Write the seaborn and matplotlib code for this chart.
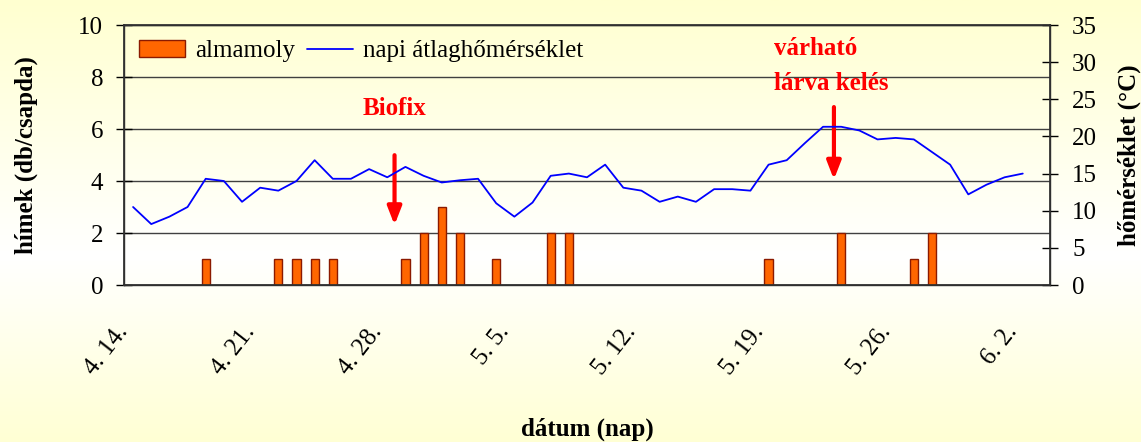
import numpy as np
import pandas as pd
import matplotlib
matplotlib.use("Agg")
import matplotlib.pyplot as plt
import matplotlib.transforms as mtransforms
from matplotlib.patches import Patch
from matplotlib.lines import Line2D
from matplotlib.colors import LinearSegmentedColormap
import seaborn as sns

# ---------------- data ----------------
day_index = list(range(50))  # 4.14. ... 6.2.
temperature = [10.5, 8.2, 9.2, 10.5, 14.3, 14.0, 11.2, 13.1, 12.7, 14.0,
               16.8, 14.3, 14.3, 15.6, 14.5, 15.9, 14.7, 13.8, 14.1, 14.3,
               11.0, 9.2, 11.1, 14.7, 15.0, 14.5, 16.2, 13.1, 12.7, 11.2,
               11.9, 11.2, 12.9, 12.9, 12.7, 16.2, 16.8, 19.1, 21.3, 21.3,
               20.8, 19.6, 19.8, 19.6, 17.9, 16.2, 12.2, 13.5, 14.5, 15.0]
moth_days = [4, 8, 9, 10, 11, 15, 16, 17, 18, 20, 23, 24, 35, 39, 43, 44]
moth_counts = [1, 1, 1, 1, 1, 1, 2, 3, 2, 1, 2, 2, 1, 2, 1, 2]
tick_days = [0, 7, 14, 21, 28, 35, 42, 49]
tick_labels = ["4. 14.", "4. 21.", "4. 28.", "5. 5.", "5. 12.", "5. 19.", "5. 26.", "6. 2."]
left_ticks = [0, 2, 4, 6, 8, 10]
right_ticks = [0, 5, 10, 15, 20, 25, 30, 35]

temp_df = pd.DataFrame({"pos": [d + 0.5 for d in day_index], "temp": temperature})
moth_df = pd.DataFrame({"pos": [d + 0.5 for d in moth_days], "count": moth_counts})

# ---------------- style ----------------
sns.set_theme(style="white")
plt.rcParams["font.family"] = ["Liberation Serif", "DejaVu Serif"]
for k in ["text.color", "axes.labelcolor", "xtick.color", "ytick.color"]:
    plt.rcParams[k] = "black"
FS = 18

fig = plt.figure(figsize=(11.41, 4.42), dpi=100)

# background gradient
bg = fig.add_axes([0, 0, 1, 1], zorder=-10)
cmap = LinearSegmentedColormap.from_list(
    "bg", [(0.0, "#FFFFD0"), (0.58, "#FFFFFF"), (1.0, "#FFFFD4")])
grad = np.linspace(0, 1, 256).reshape(-1, 1)
bg.imshow(grad, aspect="auto", cmap=cmap, extent=[0, 1, 0, 1], origin="upper")
bg.set_axis_off()

ax = fig.add_axes([124 / 1141, 1 - 285 / 442, (1050 - 124) / 1141, 260 / 442])
ax.set_facecolor("none")

sns.barplot(data=moth_df, x="pos", y="count", native_scale=True, width=0.45,
            color="#FF6600", edgecolor="#8B1A00", linewidth=1.0,
            saturation=1, ax=ax, zorder=3)

ax.set_xlim(0, 51)
ax.set_ylim(0, 10)
ax.set_yticks(left_ticks)
ax.set_yticklabels([str(v) for v in left_ticks], fontsize=FS)
ax.set_xticks(tick_days)
ax.set_xticklabels(tick_labels, fontsize=FS, rotation=52, ha="right",
                   va="center", rotation_mode="anchor")
offset = mtransforms.ScaledTranslation(20 / 100, 0, fig.dpi_scale_trans)
for lbl in ax.get_xticklabels():
    lbl.set_transform(lbl.get_transform() + offset)
ax.tick_params(axis="x", direction="inout", length=14, width=1, color="black",
               pad=24)
ax.tick_params(axis="y", direction="inout", length=12, width=1, color="black",
               pad=9)
ax.yaxis.grid(True, color="#404040", linewidth=1.0)
ax.set_axisbelow(True)
for s in ["left", "right", "top", "bottom"]:
    ax.spines[s].set_color("#303030")
    ax.spines[s].set_linewidth(1.0)

ax.set_xlabel("dátum (nap)", fontsize=FS, fontweight="bold", labelpad=28)
ax.set_ylabel("hímek (db/csapda)", fontsize=FS, fontweight="bold", labelpad=29)

ax2 = ax.twinx()
sns.lineplot(data=temp_df, x="pos", y="temp", color="#0000FF", linewidth=1.3,
             ax=ax2)
ax2.set_ylim(0, 35)
ax2.set_yticks(right_ticks)
ax2.set_yticklabels([str(v) for v in right_ticks], fontsize=FS)
ax2.tick_params(axis="y", direction="inout", length=12, width=1, color="black",
                pad=10)
ax2.set_ylabel("hőmérséklet (°C)", fontsize=FS, fontweight="bold", labelpad=15)
ax2.set_xlim(0, 51)
ax2.grid(False)
for s in ["left", "right", "top", "bottom"]:
    ax2.spines[s].set_color("#303030")

# annotations
ax.annotate("", xy=(14.9, 2.2), xytext=(14.9, 5.1),
            arrowprops=dict(arrowstyle="-|>,head_length=0.9,head_width=0.35",
                            color="#FF0000", lw=3), zorder=5)
ax.text(14.9, 6.8, "Biofix", color="#FF0000", fontsize=FS, fontweight="bold",
        ha="center", va="center")
ax.annotate("", xy=(39.1, 3.95), xytext=(39.1, 6.95),
            arrowprops=dict(arrowstyle="-|>,head_length=0.9,head_width=0.35",
                            color="#FF0000", lw=3), zorder=5)
ax.text(35.8, 8.42, "várható\nlárva kelés", color="#FF0000", fontsize=FS,
        fontweight="bold", ha="left", va="center", linespacing=1.65)

# legend
handles = [Patch(facecolor="#FF6600", edgecolor="#8B1A00", linewidth=1.0),
           Line2D([0], [0], color="#0000FF", linewidth=1.3)]
ax2.legend(handles, ["almamoly", "napi átlaghőmérséklet"], loc="upper left",
           bbox_to_anchor=(0.0, 1.0), ncol=2, frameon=False, fontsize=FS,
           handlelength=1.85, handleheight=0.65, handletextpad=0.4,
           columnspacing=0.45, borderaxespad=0.2)

fig.savefig("out.png", dpi=100)
